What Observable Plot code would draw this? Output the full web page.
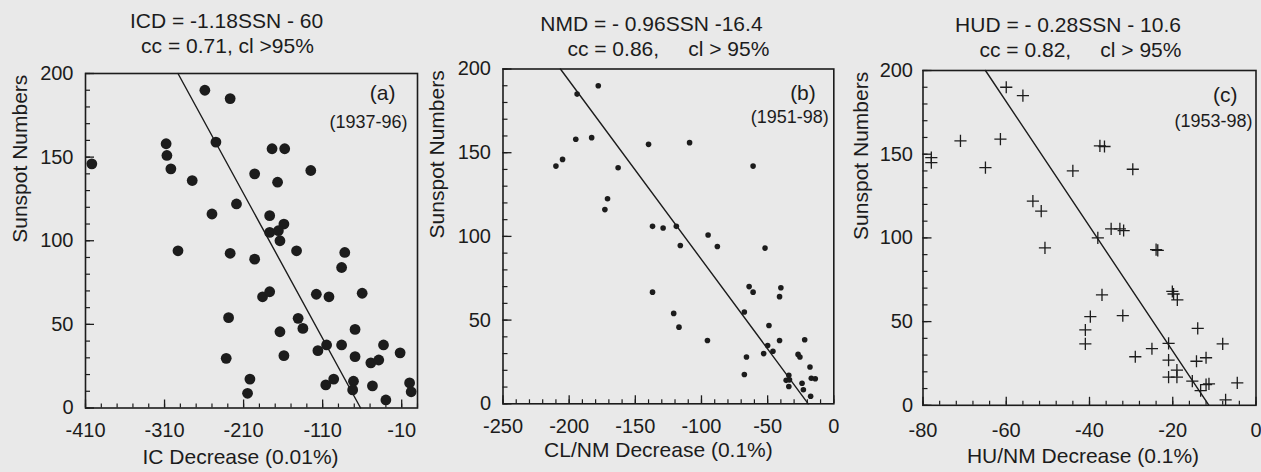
<!DOCTYPE html>
<html>
<head>
<meta charset="utf-8">
<script src="https://cdn.jsdelivr.net/npm/d3@7"></script>
<script src="https://cdn.jsdelivr.net/npm/@observablehq/plot@0.6"></script>
<style>
  html, body { margin: 0; padding: 0; background: #e9e9e9; }
  #wrap { position: relative; width: 1261px; height: 472px; overflow: hidden; }
  #wrap svg { position: absolute; top: 0; }
</style>
</head>
<body>
<div id="wrap"></div>
<script>
// ---------- Panel (a): IC decrease vs sunspot numbers (1937-96) ----------
const icDecrease = [-402,-259,-227,-308,-307,-302,-275,-245,-196,-174,-158,-167,-125,-219,-250,-177,-159,-293,-227,-196,-177,-166,-164,-143,-82,-86,-186,-177,-118,-102,-60,-141,-135,-164,-69,-105,-116,-86,-159,-69,-33,-49,-39,-12,-202,-205,-106,-96,-71,-72,-47,-30,0,2,-229,-232];
const icSSN      = [146,190,185,158,151,143,136,159,140,155,155,135,142,122,116,115,110,94,92.5,89,105,106,100,94,93,84,66.5,69.5,68,66.5,68.6,53.6,47.6,45.6,47,37.7,34.3,37.7,31.3,30.7,37.7,27,28.7,33,17.3,8.8,13.8,17.3,16,10.8,13.2,4.8,15,9.7,54,29.7];
const icFitX = [-62, -293];
const icFitY = [0, 200];
const icTicks = [-410, -310, -210, -110, -10];

// ---------- Panel (b): CL/NM decrease (1951-98) ----------
const nmDecrease = [-178,-194,-195,-183,-210,-205,-163,-140,-109,-171,-173,-137,-129,-119,-116,-61,-95,-88,-52,-137,-121,-117,-95.5,-67.6,-64,-61,-40,-41,-49,-41,-22,-50,-46,-53,-66,-67.6,-27,-25.6,-18,-34,-36,-33.5,-34,-24,-23,-17,-14,-17.5];
const nmSSN      = [190,185,158,159,142,146,141,155,156,122.5,116,106,105,106,94.6,142,100.8,94,93,66.7,54,45.8,37.8,54.8,70,66.7,69.3,64,46.8,37.8,38.3,34.8,31.4,30,28,17.5,29.5,28,22,17,14,14.3,10.3,12.3,8.4,15.3,15,4.5];
const nmFitX = [-19.3, -206.6];
const nmFitY = [0, 200];
const nmTicks = [-250, -200, -150, -100, -50, 0];

// ---------- Panel (c): HU/NM decrease (1953-98) ----------
const huDecrease = [-60,-56,-71,-61.4,-65,-37.5,-36.4,-44,-29.6,-53.6,-51.6,-38,-34.8,-32.7,-31.8,-50.7,-24,-23.6,-78,-78,-37,-20.1,-19.8,-18.9,-39.8,-41,-41,-32,-29,-25,-21,-21,-19,-21,-19,-14,-14.3,-12,-8,-15.3,-13.3,-12,-11.3,-7.3,-4.5];
const huSSN      = [190,185,158,159,142,155,154.6,140,141,122,116,100,105.4,105.4,104.4,94,93,92.5,148,145,66,68,66.5,63,53,45,36.7,53.6,29,33.8,37,27,21,16.8,16.8,46,26.3,28.4,36.7,14.4,8.8,12.4,12.8,3.3,13.4];
const huFitX = [-11.3, -65];
const huFitY = [0, 200];
const huTicks = [-80, -60, -40, -20, 0];

const ssnTicks = [0, 50, 100, 150, 200];

const FONT = "'Liberation Sans', Arial, Helvetica, sans-serif";
const INK = "#1c1c1c";
const H = 472;

function zip(xs, ys) { return xs.map((x, i) => ({x, y: ys[i]})); }

function panel(o) {
  const fw = o.width - o.mL - o.mR;
  const fh = H - o.mT - o.mB;
  const xMinor = d3.range(o.xDomain[0], o.xDomain[1] + 1e-9, o.xMinorStep);
  const yMinor = d3.range(0, 200.001, 10);
  const t = (s, opts) => Plot.text([s], {text: d => d, fill: INK, lineAnchor: "middle", ...opts});
  const svg = Plot.plot({
    width: o.width, height: H,
    marginLeft: o.mL, marginRight: o.mR, marginTop: o.mT, marginBottom: o.mB,
    x: {domain: o.xDomain},
    y: {domain: [0, 200]},
    style: {background: "transparent", fontFamily: FONT, fontSize: "20px", color: INK, overflow: "visible"},
    marks: [
      Plot.tickX(xMinor, {x: d => d, insetTop: fh - 4, stroke: INK, strokeWidth: 1.2}),
      Plot.tickX(o.xTicks, {x: d => d, insetTop: fh - 8, stroke: INK, strokeWidth: 1.3}),
      Plot.tickY(yMinor, {y: d => d, insetRight: fw - 5, stroke: INK, strokeWidth: 1.2}),
      Plot.tickY(ssnTicks, {y: d => d, insetRight: fw - 9, stroke: INK, strokeWidth: 1.3}),
      Plot.frame({stroke: INK, strokeWidth: 1.6}),
      Plot.axisX({ticks: o.xTicks, tickSize: 0, tickPadding: o.xPad, tickFormat: d => String(d), label: null, fill: INK, fontSize: 20}),
      Plot.axisY({ticks: ssnTicks, tickSize: 0, tickPadding: o.yPad, tickFormat: d => String(d), label: null, fill: INK, fontSize: 20}),
      Plot.line(zip(o.fitX, o.fitY), {x: "x", y: "y", stroke: INK, strokeWidth: 1.4}),
      Plot.dot(zip(o.xs, o.ys), {x: "x", y: "y", ...o.dot}),
      t(o.title1, {frameAnchor: "top", dx: o.t1[0], dy: o.t1[1], fontSize: 21}),
      t(o.title2, {frameAnchor: "top", dx: o.t2[0], dy: o.t2[1], fontSize: 21}),
      t(o.letter, {frameAnchor: "top-right", textAnchor: "end", dx: o.lt[0], dy: o.lt[1], fontSize: 21}),
      t(o.years, {frameAnchor: "top-right", textAnchor: "end", dx: o.yr[0], dy: o.yr[1], fontSize: 18}),
      t(o.xLabel, {frameAnchor: "bottom", dx: o.xl[0], dy: o.xl[1], fontSize: 21}),
      t("Sunspot Numbers", {frameAnchor: "left", rotate: -90, dx: o.yl, dy: 2, fontSize: 21})
    ]
  });
  svg.style.left = o.left + "px";
  document.getElementById("wrap").appendChild(svg);
}

panel({
  left: 0, width: 420, mL: 85, mR: 3, mT: 73, mB: 64.5,
  xDomain: [-410, 10], xMinorStep: 20, xTicks: icTicks, xPad: 15, yPad: 12,
  xs: icDecrease, ys: icSSN, fitX: icFitX, fitY: icFitY,
  dot: {r: 5.4, fill: INK, stroke: "none"},
  title1: "ICD = -1.18SSN - 60", t1: [-25, -52.5],
  title2: "cc = 0.71, cl >95%", t2: [-24, -27],
  letter: "(a)", lt: [-22, 19.5],
  years: "(1937-96)", yr: [-10, 48.5],
  xLabel: "IC Decrease (0.01%)", xl: [-11, 49],
  yl: -65
});

panel({
  left: 420, width: 420, mL: 82.5, mR: 6.7, mT: 68.5, mB: 68.7,
  xDomain: [-250, 0], xMinorStep: 10, xTicks: nmTicks, xPad: 14.5, yPad: 12,
  xs: nmDecrease, ys: nmSSN, fitX: nmFitX, fitY: nmFitY,
  dot: {r: 2.8, fill: INK, stroke: "none"},
  title1: "NMD = - 0.96SSN -16.4", t1: [-17, -45.2],
  title2: "cc = 0.86,\u00a0\u00a0\u00a0\u00a0\u00a0cl > 95%", t2: [0, -19.5],
  letter: "(b)", lt: [-18, 24],
  years: "(1951-98)", yr: [-5, 48],
  xLabel: "CL/NM Decrease (0.1%)", xl: [-10, 46],
  yl: -65.5
});

panel({
  left: 840, width: 421, mL: 82.5, mR: 5.5, mT: 70, mB: 67.2,
  xDomain: [-80, 0], xMinorStep: 4, xTicks: huTicks, xPad: 17, yPad: 10,
  xs: huDecrease, ys: huSSN, fitX: huFitX, fitY: huFitY,
  dot: {r: 4, symbol: "plus", stroke: INK, strokeWidth: 1.3, fill: "none"},
  title1: "HUD = - 0.28SSN - 10.6", t1: [-21.5, -45],
  title2: "cc = 0.82,\u00a0\u00a0\u00a0\u00a0\u00a0cl > 95%", t2: [-9, -20],
  letter: "(c)", lt: [-18.5, 25],
  years: "(1953-98)", yr: [-3.5, 51],
  xLabel: "HU/NM Decrease (0.1%)", xl: [-6.5, 50.5],
  yl: -61.5
});
</script>
</body>
</html>
